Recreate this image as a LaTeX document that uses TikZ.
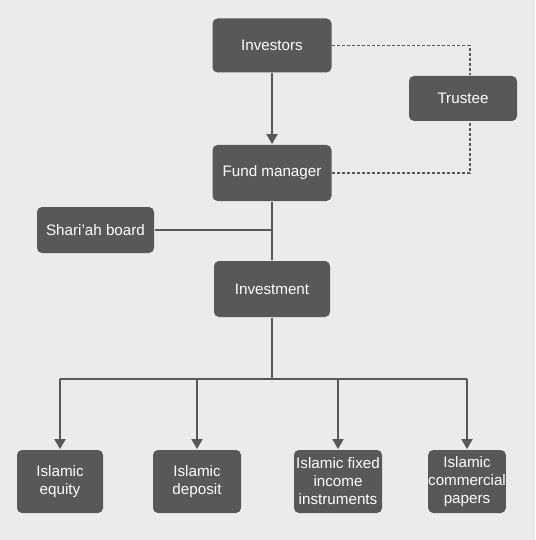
\documentclass[tikz,border=0pt]{standalone}
\usepackage{fontspec}
\setmainfont{Liberation Sans}
\usetikzlibrary{arrows.meta}
\definecolor{bggray}{HTML}{EBEBEB}
\definecolor{boxgray}{HTML}{585858}
\begin{document}
\begin{tikzpicture}[x=1pt,y=-1pt,line width=1.8pt,draw=boxgray,
  box/.style={fill=boxgray,rounded corners=5pt,text=white,align=center,inner sep=0pt,font=\fontsize{15.2}{18}\selectfont},
  link/.style={-{Triangle[width=11pt,length=10pt]}},
  dashline/.style={dash pattern=on 3pt off 2pt}]
\fill[bggray] (0,0) rectangle (535,540);
\node[box,minimum width=119pt,minimum height=54pt] (inv) at (272,45.5) {Investors};
\node[box,minimum width=108pt,minimum height=45pt] (trus) at (463,98.5) {Trustee};
\node[box,minimum width=119pt,minimum height=56pt] (fund) at (272,173) {Fund manager};
\node[box,minimum width=117pt,minimum height=46pt] (shar) at (95.5,230) {Shari’ah board};
\node[box,minimum width=116pt,minimum height=56pt] (invest) at (272,289) {Investment};
\foreach \n/\cx/\w/\t in {eq/60/86/{Islamic\\equity},dep/197/88/{Islamic\\deposit},fix/338/88/{Islamic fixed\\income\\instruments},com/467/76/{Islamic\\commercial\\papers}}
  \node[box,minimum width=\w pt,minimum height=63pt] (\n) at (\cx,481.5) {\t};
\coordinate (tA) at (470,45.5); \coordinate (tB) at (470,173); \coordinate (split) at (272,379);
\draw[dashline] (inv.east) -- (tA) -- (tA |- trus.north);
\draw[dashline] (fund.east) -- (tB) -- (tB |- trus.south);
\draw[link] (inv.south) -- (fund.north);
\draw (fund.south) -- (invest.north); \draw (shar.east) -- (shar.east -| fund.south);
\draw (invest.south) -- (split); \draw (eq.north |- split) -- (com.north |- split);
\foreach \b in {eq,dep,fix,com} \draw[link] (\b.north |- split) -- (\b.north);
\end{tikzpicture}
\end{document}
